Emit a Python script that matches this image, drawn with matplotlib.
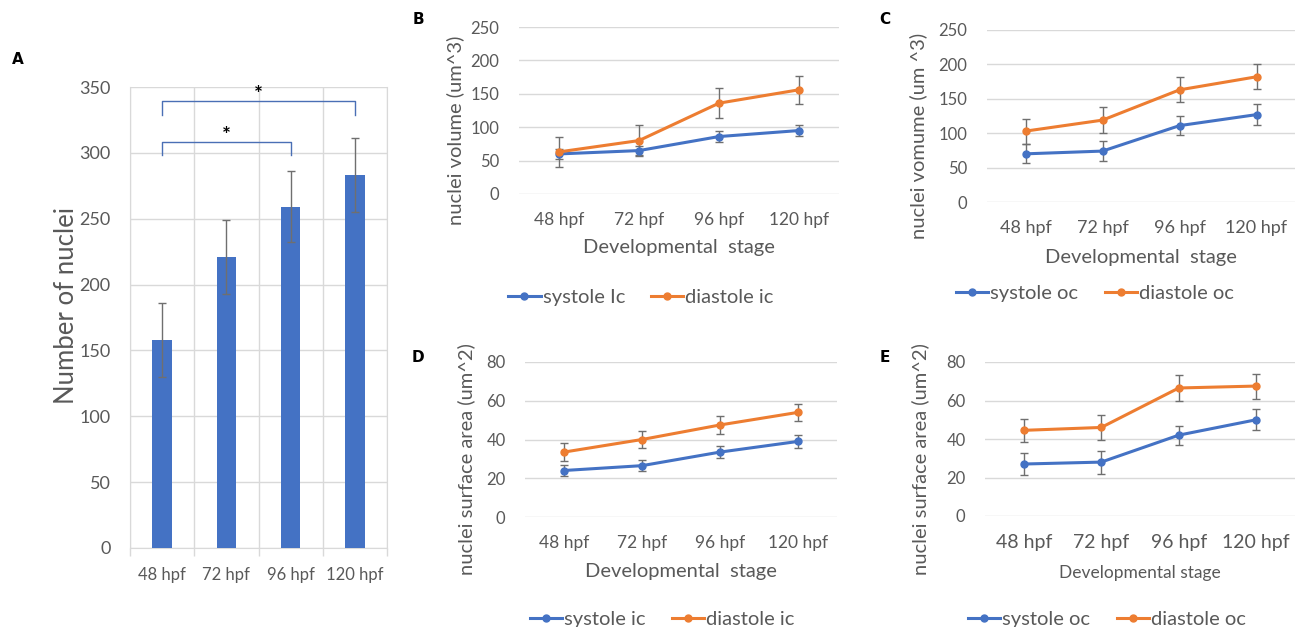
import matplotlib
matplotlib.use("Agg")
import matplotlib.pyplot as plt
from matplotlib.lines import Line2D
import numpy as np

plt.rcParams["font.family"] = ["Lato", "DejaVu Sans"]

W, H = 1295, 627

stages = ["48 hpf", "72 hpf", "96 hpf", "120 hpf"]

# panel A
nuclei_count = [158, 221, 259, 283]
nuclei_count_err = [28, 28, 27, 28]

# panel B
vol_sys_ic = [60, 65, 86, 95]
vol_sys_ic_err = [8, 7, 8, 8]
vol_dia_ic = [63, 80, 136, 156]
vol_dia_ic_err = [22, 23, 22, 21]

# panel C
vol_sys_oc = [70, 74, 111, 127]
vol_sys_oc_err = [14, 14, 14, 15]
vol_dia_oc = [103, 119, 163, 182]
vol_dia_oc_err = [18, 19, 18, 18]

# panel D
area_sys_ic = [24, 26.5, 33.5, 39]
area_sys_ic_err = [3, 3, 3, 3.5]
area_dia_ic = [33.5, 40, 47.5, 54]
area_dia_ic_err = [4.5, 4.5, 4.5, 4.5]

# panel E
area_sys_oc = [27, 28, 42, 50]
area_sys_oc_err = [5.5, 6, 5, 5.5]
area_dia_oc = [44.5, 46, 66.5, 67.5]
area_dia_oc_err = [6, 6.5, 6.5, 6.5]

BLUE = "#4472C4"
ORANGE = "#ED7D31"
TXT = "#595959"
GRID = "#D9D9D9"
ERR = "#6f6f6f"


def box(x0, y0, x1, y1):
    return [x0 / W, 1 - y1 / H, (x1 - x0) / W, (y1 - y0) / H]


def fx(x):
    return x / W


def fy(y):
    return 1 - y / H


fig = plt.figure(figsize=(W / 100, H / 100), dpi=100)

# ---------------- A: bar chart
axA = fig.add_axes(box(130, 87, 387, 548))
x = np.arange(len(stages))
axA.bar(x, nuclei_count, width=0.3, color=BLUE, zorder=3)
axA.errorbar(x, nuclei_count, yerr=nuclei_count_err, fmt="none",
             ecolor=ERR, elinewidth=1, capsize=3, capthick=1, zorder=4)
axA.set_xlim(-0.5, 3.5)
axA.set_ylim(0, 350)
axA.set_yticks(range(0, 351, 50))
axA.set_xticks(x)
axA.set_xticklabels(stages, fontsize=12, color=TXT)
axA.set_xticks(np.arange(-0.5, 4, 1), minor=True)
axA.tick_params(axis="x", which="major", length=0, pad=14)
axA.tick_params(axis="x", which="minor", length=6, color=GRID, width=1)
axA.tick_params(axis="y", length=0, labelsize=13, labelcolor=TXT, pad=14)
axA.grid(True, which="major", axis="y", color=GRID, lw=1, zorder=0)
axA.grid(True, which="minor", axis="x", color=GRID, lw=1, zorder=0)
for s in axA.spines.values():
    s.set_color(GRID)
axA.spines["top"].set_visible(False)

# significance brackets
br = "#4A6FB5"
axA.plot([0, 0, 3, 3], [329, 339, 339, 329], color=br, lw=1, zorder=5)
axA.text(1.5, 344, "*", ha="center", va="center", fontsize=15, fontweight="bold")
axA.plot([0, 0, 2, 2], [298, 308, 308, 298], color=br, lw=1, zorder=5)
axA.text(1.0, 313, "*", ha="center", va="center", fontsize=15, fontweight="bold")

fig.text(fx(66), fy(305), "Number of nuclei", rotation=90, ha="center",
         va="center", fontsize=18.5, color=TXT)


def line_panel(rect, ymax, ystep, sys_v, sys_e, dia_v, dia_e, ylab, ylab_x,
               xlab, xlab_y, xlab_fs, tick_fs, leg_labels, leg_y, leg_x):
    ax = fig.add_axes(box(*rect))
    xx = np.arange(len(stages))
    ax.errorbar(xx, sys_v, yerr=sys_e, color=BLUE, lw=2.2, marker="o",
                ms=5, ecolor=ERR, elinewidth=1, capsize=3, capthick=1, zorder=3)
    ax.errorbar(xx, dia_v, yerr=dia_e, color=ORANGE, lw=2.2, marker="o",
                ms=5, ecolor=ERR, elinewidth=1, capsize=3, capthick=1, zorder=3)
    ax.set_xlim(-0.5, 3.5)
    ax.set_ylim(0, ymax)
    ax.set_yticks(np.arange(0, ymax + 1, ystep))
    ax.set_xticks(xx)
    ax.set_xticklabels(stages)
    ax.tick_params(axis="x", length=0, labelsize=tick_fs, labelcolor=TXT, pad=13)
    ax.tick_params(axis="y", length=0, labelsize=12, labelcolor=TXT, pad=14)
    ax.grid(True, axis="y", color=GRID, lw=1, zorder=0)
    for s in ax.spines.values():
        s.set_visible(False)
    fig.text(fx(ylab_x), fy((rect[1] + rect[3]) / 2 + 20), ylab, rotation=90,
             ha="center", va="center", fontsize=14.5, color=TXT)
    fig.text(fx((rect[0] + rect[2]) / 2), fy(xlab_y), xlab, ha="center",
             va="center", fontsize=xlab_fs, color=TXT)
    handles = [Line2D([], [], color=BLUE, lw=2.2, marker="o", ms=5),
               Line2D([], [], color=ORANGE, lw=2.2, marker="o", ms=5)]
    fig.legend(handles, leg_labels, loc="center", ncol=2,
               bbox_to_anchor=(fx(leg_x), fy(leg_y)), frameon=False,
               fontsize=14.5, labelcolor=TXT, handlelength=1.6,
               handletextpad=0.1, columnspacing=1.3)
    return ax


line_panel((519, 27, 839, 194), 250, 50, vol_sys_ic, vol_sys_ic_err,
           vol_dia_ic, vol_dia_ic_err, "nuclei volume (um^3)", 455,
           "Developmental  stage", 248, 14.5, 12.5,
           ["systole Ic", "diastole ic"], 297, 641)

line_panel((987, 30, 1295, 202), 250, 50, vol_sys_oc, vol_sys_oc_err,
           vol_dia_oc, vol_dia_oc_err, "nuclei vomume (um ^3)", 918,
           "Developmental  stage", 257, 14.5, 13,
           ["systole oc", "diastole oc"], 293, 1095)

line_panel((525, 362, 837, 517), 80, 20, area_sys_ic, area_sys_ic_err,
           area_dia_ic, area_dia_ic_err, "nuclei surface area (um^2)", 466,
           "Developmental  stage", 572, 14.5, 12.5,
           ["systole ic", "diastole ic"], 619, 662)

line_panel((985, 362, 1295, 516), 80, 20, area_sys_oc, area_sys_oc_err,
           area_dia_oc, area_dia_oc_err, "nuclei surface area (um^2)", 920,
           "Developmental stage", 573, 12.5, 14,
           ["systole oc", "diastole oc"], 619, 1107)

# panel letters
for lab, px, py in [("A", 18, 60), ("B", 418, 20), ("C", 885, 20),
                    ("D", 418, 358), ("E", 885, 358)]:
    fig.text(fx(px), fy(py), lab, ha="center", va="center", fontsize=11,
             fontweight="bold", color="black", family="DejaVu Sans")

fig.savefig("out.png", dpi=100)
